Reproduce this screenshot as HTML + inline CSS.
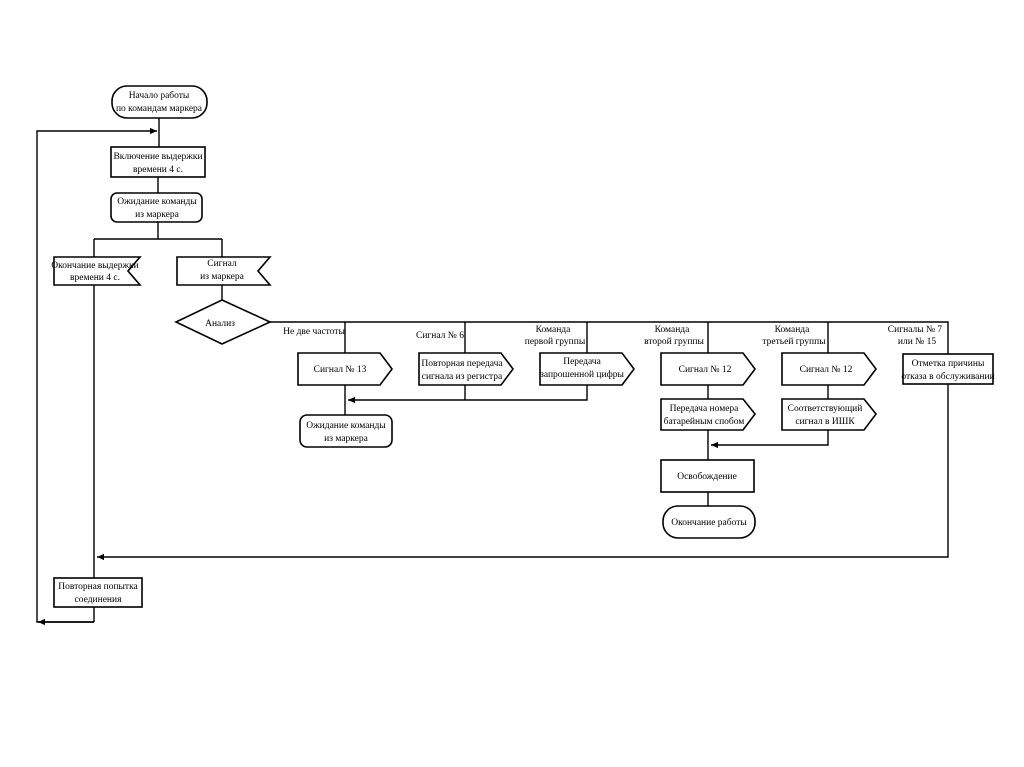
<!DOCTYPE html>
<html><head><meta charset="utf-8"><style>
html,body{margin:0;padding:0;background:#fff;}
svg{display:block;}
text{font-family:"Liberation Serif","DejaVu Serif",serif;font-size:9.5px;fill:#000;text-anchor:middle;}
.s{fill:#fff;stroke:#000;stroke-width:1.6;}
.l{fill:none;stroke:#000;stroke-width:1.4;}
</style></head><body>
<svg width="1024" height="767" viewBox="0 0 1024 767" xmlns="http://www.w3.org/2000/svg">
<defs><marker id="a" markerWidth="6" markerHeight="6" refX="5" refY="3" orient="auto"><path d="M0,0.8 L5,3 L0,5.2z" fill="#000"/></marker></defs>
<path class="l" d="M159,118 V147"/>
<path class="l" d="M94,622 H37 V131 H157" marker-end="url(#a)"/>
<path class="l" d="M94,622 H38" marker-end="url(#a)"/>
<path class="l" d="M158,177 V193"/>
<path class="l" d="M158,221 V239 M94,239 H222 M94,239 V258 M222,239 V258 M94,285 V578 M94,607 V622"/>
<path class="l" d="M222,285 V300"/>
<path class="l" d="M270,322 H948 V557 H97" marker-end="url(#a)"/>
<path class="l" d="M345,322 V353 M465,322 V353 M587,322 V353 M708,322 V353 M828,322 V353"/>
<path class="l" d="M345,384 V415 M465,384 V400 M587,384 V400 H348" marker-end="url(#a)"/>
<path class="l" d="M708,384 V399 M828,384 V399 M708,430 V460 M828,430 V445 H711" marker-end="url(#a)"/>
<path class="l" d="M708,492 V506"/>
<rect class="s" x="112" y="86" width="95" height="32" rx="15"/>
<text x="159" y="98">Начало работы</text><text x="159" y="111">по командам маркера</text>
<rect class="s" x="111" y="147" width="94" height="30"/>
<text x="158" y="159">Включение выдержки</text><text x="158" y="172">времени 4 с.</text>
<rect class="s" x="111" y="193" width="91" height="29" rx="6"/>
<text x="157" y="204">Ожидание команды</text><text x="157" y="217">из маркера</text>
<path class="s" d="M54,257 H140 L128,271 L140,285 H54z"/>
<text x="95" y="268">Окончание выдержки</text><text x="95" y="280">времени 4 с.</text>
<path class="s" d="M177,257 H270 L258,271 L270,285 H177z"/>
<text x="222" y="266">Сигнал</text><text x="222" y="279">из маркера</text>
<path class="s" d="M222,300 L270,322 L222,344 L176,322z"/>
<text x="220" y="326">Анализ</text>
<text x="314" y="334">Не две частоты</text>
<text x="440" y="338">Сигнал № 6</text>
<text x="553" y="332">Команда</text><text x="555" y="344">первой группы</text>
<text x="672" y="332">Команда</text><text x="674" y="344">второй группы</text>
<text x="792" y="332">Команда</text><text x="794" y="344">третьей группы</text>
<text x="915" y="332">Сигналы  № 7</text><text x="917" y="344">или № 15</text>
<path class="s" d="M298,353 H380 L392,369 L380,385 H298z"/><text x="340" y="372">Сигнал № 13</text>
<path class="s" d="M419,353 H501 L513,369 L501,385 H419z"/><text x="462" y="366">Повторная передача</text><text x="462" y="379">сигнала из регистра</text>
<path class="s" d="M540,353 H622 L634,369 L622,385 H540z"/><text x="582" y="364">Передача</text><text x="582" y="377">запрошенной цифры</text>
<path class="s" d="M661,353 H743 L755,369 L743,385 H661z"/><text x="705" y="372">Сигнал № 12</text>
<path class="s" d="M782,353 H864 L876,369 L864,385 H782z"/><text x="826" y="372">Сигнал № 12</text>
<rect class="s" x="903" y="354" width="90" height="30"/><text x="948" y="366">Отметка причины</text><text x="948" y="379">отказа в обслуживании</text>
<rect class="s" x="300" y="415" width="92" height="32" rx="7"/><text x="346" y="428">Ожидание команды</text><text x="346" y="441">из маркера</text>
<path class="s" d="M661,399 H743 L755,414 L743,430 H661z"/><text x="704" y="411">Передача номера</text><text x="704" y="424">батарейным спобом</text>
<path class="s" d="M782,399 H864 L876,414 L864,430 H782z"/><text x="825" y="411">Соответствующий</text><text x="825" y="424">сигнал в ИШК</text>
<rect class="s" x="661" y="460" width="93" height="32"/><text x="707" y="479">Освобождение</text>
<rect class="s" x="663" y="506" width="92" height="32" rx="15"/><text x="709" y="525">Окончание работы</text>
<rect class="s" x="54" y="578" width="88" height="29"/><text x="98" y="589">Повторная попытка</text><text x="98" y="602">соединения</text>
</svg>
</body></html>
